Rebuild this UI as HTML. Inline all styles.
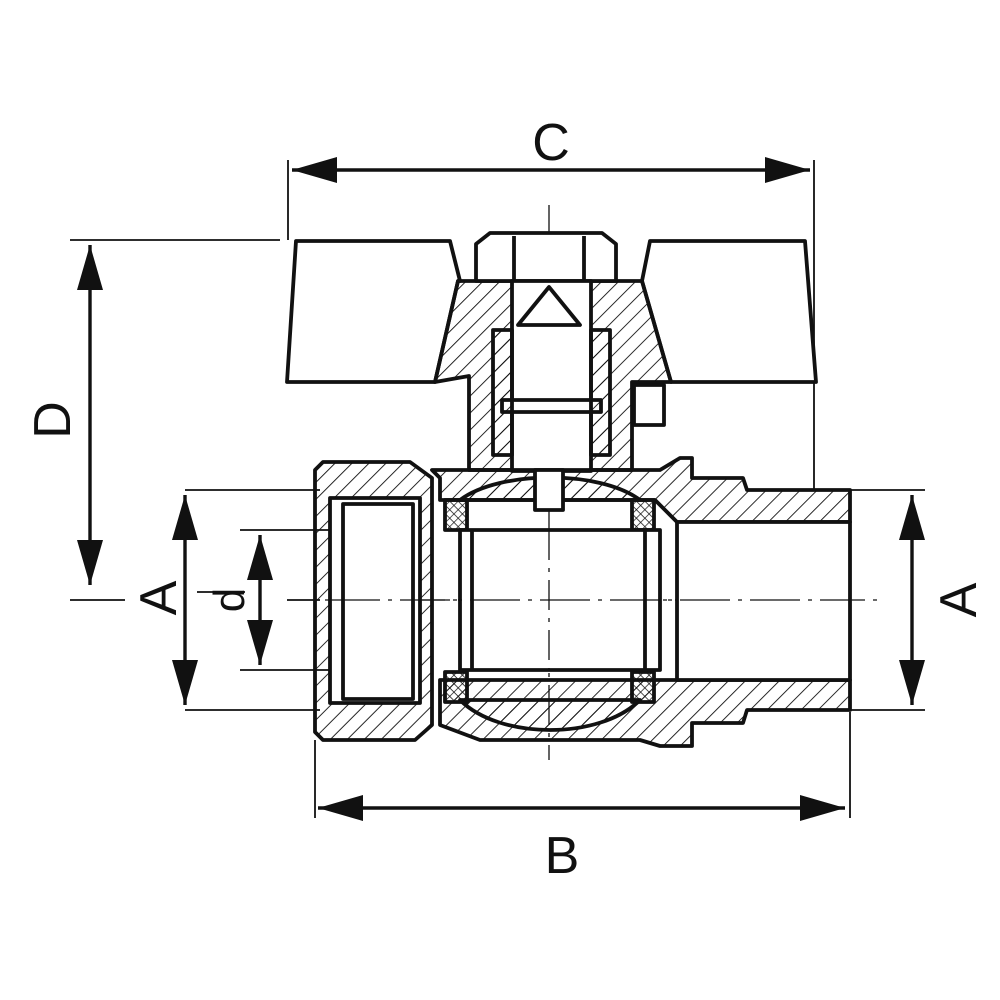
<!DOCTYPE html>
<html><head><meta charset="utf-8"><style>html,body{margin:0;padding:0;background:#fff}svg{display:block}</style></head>
<body>
<svg width="1000" height="1000" viewBox="0 0 1000 1000" xmlns="http://www.w3.org/2000/svg">
<defs>
<pattern id="h" patternUnits="userSpaceOnUse" width="12" height="12" patternTransform="rotate(45)"><line x1="0" y1="0" x2="0" y2="12" stroke="#111" stroke-width="1.8"/></pattern>
<pattern id="x" patternUnits="userSpaceOnUse" width="6" height="6" patternTransform="rotate(45)"><path d="M0 0V6M0 0H6" stroke="#111" stroke-width="1.4"/></pattern>
<marker id="a" viewBox="0 0 45 26" refX="45" refY="13" markerWidth="45" markerHeight="26" markerUnits="userSpaceOnUse" orient="auto"><path d="M0 0L45 13L0 26Z" fill="#111"/></marker>
<marker id="s" viewBox="0 0 45 26" refX="0" refY="13" markerWidth="45" markerHeight="26" markerUnits="userSpaceOnUse" orient="auto"><path d="M45 0L0 13L45 26Z" fill="#111"/></marker>
</defs>
<rect width="1000" height="1000" fill="#fff"/>
<g stroke="#111" stroke-width="1.8" fill="none">
<line x1="288" y1="160" x2="288" y2="240"/>
<line x1="814" y1="160" x2="814" y2="490"/>
<line x1="70" y1="240" x2="280" y2="240"/>
<line x1="70" y1="600" x2="125" y2="600"/>
<line x1="185" y1="490" x2="320" y2="490"/>
<line x1="185" y1="710" x2="320" y2="710"/>
<line x1="240" y1="530" x2="330" y2="530"/>
<line x1="240" y1="670" x2="330" y2="670"/>
<line x1="197" y1="592" x2="245" y2="592"/>
<line x1="287" y1="600" x2="320" y2="600"/>
<line x1="850" y1="490" x2="925" y2="490"/>
<line x1="850" y1="710" x2="925" y2="710"/>
<line x1="315" y1="740" x2="315" y2="818"/>
<line x1="850" y1="712" x2="850" y2="818"/>
<line x1="549" y1="205" x2="549" y2="760" stroke-dasharray="40 8 4 8" stroke-width="1.3"/>
<line x1="325" y1="600" x2="880" y2="600" stroke-dasharray="50 8 4 8" stroke-width="1.3"/>
</g>
<g stroke="#111" stroke-width="3.4" fill="none">
<line x1="292" y1="170" x2="810" y2="170" marker-start="url(#s)" marker-end="url(#a)"/>
<line x1="90" y1="245" x2="90" y2="585" marker-start="url(#s)" marker-end="url(#a)"/>
<line x1="185" y1="495" x2="185" y2="705" marker-start="url(#s)" marker-end="url(#a)"/>
<line x1="260" y1="535" x2="260" y2="665" marker-start="url(#s)" marker-end="url(#a)"/>
<line x1="912" y1="495" x2="912" y2="705" marker-start="url(#s)" marker-end="url(#a)"/>
<line x1="318" y1="808" x2="845" y2="808" marker-start="url(#s)" marker-end="url(#a)"/>
</g>
<g font-family="Liberation Sans, sans-serif" font-size="52" fill="#111" text-anchor="middle">
<text x="551" y="160">C</text>
<text x="562" y="873">B</text>
<text transform="translate(70,420) rotate(-90)">D</text>
<text transform="translate(176,598) rotate(-90)">A</text>
<text transform="translate(244,600) rotate(-90)" font-size="44">d</text>
<text transform="translate(976,600) rotate(-90)">A</text>
</g>
<g stroke="#111" stroke-width="3.8" stroke-linejoin="round">
<path d="M296 241L450 241L460 281L458 281L435 382L287 382Z" fill="#fff"/>
<path d="M650 241L805 241L816 382L671 382L642 281Z" fill="#fff"/>
<path d="M458 281L642 281L671 382L632 382L632 470L469 470L469 376L435 382Z" fill="url(#h)"/>
<path d="M476 244L490 233L602 233L616 244L616 281L476 281Z" fill="#fff"/>
<line x1="514" y1="236" x2="514" y2="281"/><line x1="584" y1="236" x2="584" y2="281"/>
<rect x="512" y="281" width="79" height="190" fill="#fff"/>
<path d="M518 325L549 287L580 325Z" fill="#fff"/>
<rect x="502" y="400" width="99" height="12" fill="#fff"/>
<rect x="493" y="330" width="19" height="125" fill="url(#h)"/>
<rect x="591" y="330" width="19" height="125" fill="url(#h)"/>
<rect x="634" y="385" width="30" height="40" fill="#fff"/>
<path d="M432 470L660 470L680 458L692 458L692 478L743 478L747 490L850 490L850 522L677 522L655 500L440 500L440 478Z" fill="url(#h)"/>
<path d="M440 680L677 680L850 680L850 710L747 710L743 723L692 723L692 746L660 746L640 740L480 740L440 725Z" fill="url(#h)"/>
<path d="M460 500C500 470 600 470 640 500Z" fill="url(#h)"/>
<path d="M460 700C500 740 600 740 640 700Z" fill="url(#h)"/>
<rect x="445" y="500" width="22" height="30" fill="url(#x)"/>
<rect x="632" y="500" width="22" height="30" fill="url(#x)"/>
<rect x="445" y="672" width="22" height="30" fill="url(#x)"/>
<rect x="632" y="672" width="22" height="30" fill="url(#x)"/>
<path d="M315 470L323 462L410 462L432 478L432 725L415 740L323 740L315 732Z" fill="url(#h)"/>
<rect x="330" y="498" width="90" height="205" fill="#fff"/>
<rect x="343" y="504" width="70" height="195" fill="#fff"/>
<rect x="460" y="530" width="200" height="140" fill="#fff"/>
<line x1="472" y1="530" x2="472" y2="670"/><line x1="645" y1="530" x2="645" y2="670"/>
<rect x="677" y="522" width="173" height="158" fill="#fff"/>
<rect x="535" y="470" width="28" height="40" fill="#fff"/>
</g>
<g stroke="#111" stroke-width="1.3">
<line x1="549" y1="530" x2="549" y2="670" stroke-dasharray="30 8 4 8"/>
<line x1="330" y1="600" x2="850" y2="600" stroke-dasharray="50 8 4 8"/>
</g>
</svg>
</body></html>
